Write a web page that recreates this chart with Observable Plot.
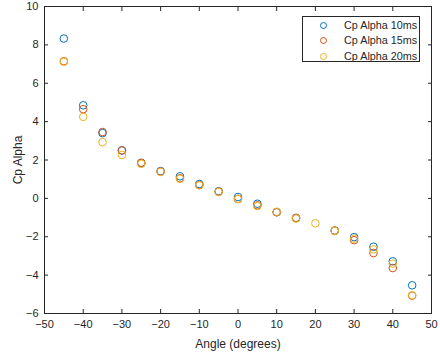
<!DOCTYPE html>
<html>
<head>
<meta charset="utf-8">
<script src="https://cdn.jsdelivr.net/npm/d3@7"></script>
<script src="https://cdn.jsdelivr.net/npm/@observablehq/plot@0.6"></script>
<style>
  html, body { margin: 0; padding: 0; background: #fff; }
  #wrap { position: relative; width: 440px; height: 358px; font-family: "Liberation Sans", Arial, sans-serif; }
  #legend { position: absolute; left: 302px; top: 16px; width: 118px; height: 46px; border: 1px solid #262626; background: #fff; box-sizing: border-box; font-size: 10.8px; color: #262626; }
  .item { position: absolute; left: 0; height: 15px; line-height: 15px; width: 100%; }
  .mk { position: absolute; left: 17px; top: 4px; width: 5px; height: 5px; border-radius: 50%; border: 1px solid; box-sizing: content-box; }
  .lb { position: absolute; left: 41px; white-space: nowrap; }
</style>
</head>
<body>
<div id="wrap"></div>
<script>
const angles = [-45, -40, -35, -30, -25, -20, -15, -10, -5, 0, 5, 10, 15, 20, 25, 30, 35, 40, 45];
const cp10 = [8.33, 4.85, 3.40, 2.50, 1.85, 1.42, 1.15, 0.75, 0.37, 0.07, -0.28, -0.72, -1.02, null, -1.68, -2.02, -2.52, -3.28, -4.53];
const cp15 = [7.15, 4.65, 3.46, 2.50, 1.85, 1.40, 1.05, 0.70, 0.35, -0.03, -0.36, -0.72, -1.02, null, -1.68, -2.18, -2.85, -3.63, -5.07];
const cp20 = [7.12, 4.25, 2.93, 2.26, 1.80, 1.38, 1.02, 0.68, 0.33, -0.03, -0.40, -0.70, -1.05, -1.30, -1.70, -2.10, -2.66, -3.40, -5.05];
const seriesNames = ["Cp Alpha 10ms", "Cp Alpha 15ms", "Cp Alpha 20ms"];
const seriesColors = ["#0072BD", "#D95319", "#EDB120"];
const xTicks = [-50, -40, -30, -20, -10, 0, 10, 20, 30, 40, 50];
const yTicks = [-6, -4, -2, 0, 2, 4, 6, 8, 10];

const seriesValues = [cp10, cp15, cp20];
const data = [];
seriesValues.forEach((vals, s) => {
  vals.forEach((v, i) => { if (v != null) data.push({angle: angles[i], cp: v, series: seriesNames[s]}); });
});

const axisColor = "#262626";
const chart = Plot.plot({
  width: 440,
  height: 358,
  marginLeft: 44,
  marginRight: 9,
  marginTop: 6,
  marginBottom: 45,
  style: { fontFamily: "Liberation Sans, Arial, sans-serif", color: axisColor, background: "#fff" },
  x: { domain: [-50, 50] },
  y: { domain: [-6, 10] },
  color: { domain: seriesNames, range: seriesColors },
  marks: [
    Plot.axisX(xTicks, { anchor: "bottom", tickSize: 0, tickPadding: 7, fontSize: 11, label: "Angle (degrees)", labelAnchor: "center", labelArrow: "none", labelOffset: 34 }),
    Plot.axisY(yTicks, { anchor: "left", tickSize: 0, tickPadding: 6, fontSize: 11, label: "Cp Alpha", labelAnchor: "center", labelArrow: "none", labelOffset: 31 }),
    Plot.axisX(xTicks, { anchor: "bottom", tickSize: -4, tickFormat: () => "", label: null }),
    Plot.axisX(xTicks, { anchor: "top", tickSize: -4, tickFormat: () => "", label: null }),
    Plot.axisY(yTicks, { anchor: "left", tickSize: -4, tickFormat: () => "", label: null }),
    Plot.axisY(yTicks, { anchor: "right", tickSize: -4, tickFormat: () => "", label: null }),
    Plot.frame({ stroke: axisColor, strokeWidth: 1 }),
    Plot.dot(data, { x: "angle", y: "cp", stroke: "series", r: 3.8, strokeWidth: 1 })
  ]
});
chart.querySelectorAll("[aria-label$='axis label'] text, [aria-label$='axis label']").forEach(el => el.setAttribute("font-size", "12"));
const wrap = document.getElementById("wrap");
wrap.appendChild(chart);

const legend = document.createElement("div");
legend.id = "legend";
seriesNames.forEach((name, i) => {
  const item = document.createElement("div");
  item.className = "item";
  item.style.top = (0.5 + i * 15.5) + "px";
  const mk = document.createElement("div");
  mk.className = "mk";
  mk.style.borderColor = seriesColors[i];
  const lb = document.createElement("div");
  lb.className = "lb";
  lb.textContent = name;
  item.appendChild(mk);
  item.appendChild(lb);
  legend.appendChild(item);
});
wrap.appendChild(legend);
</script>
</body>
</html>
